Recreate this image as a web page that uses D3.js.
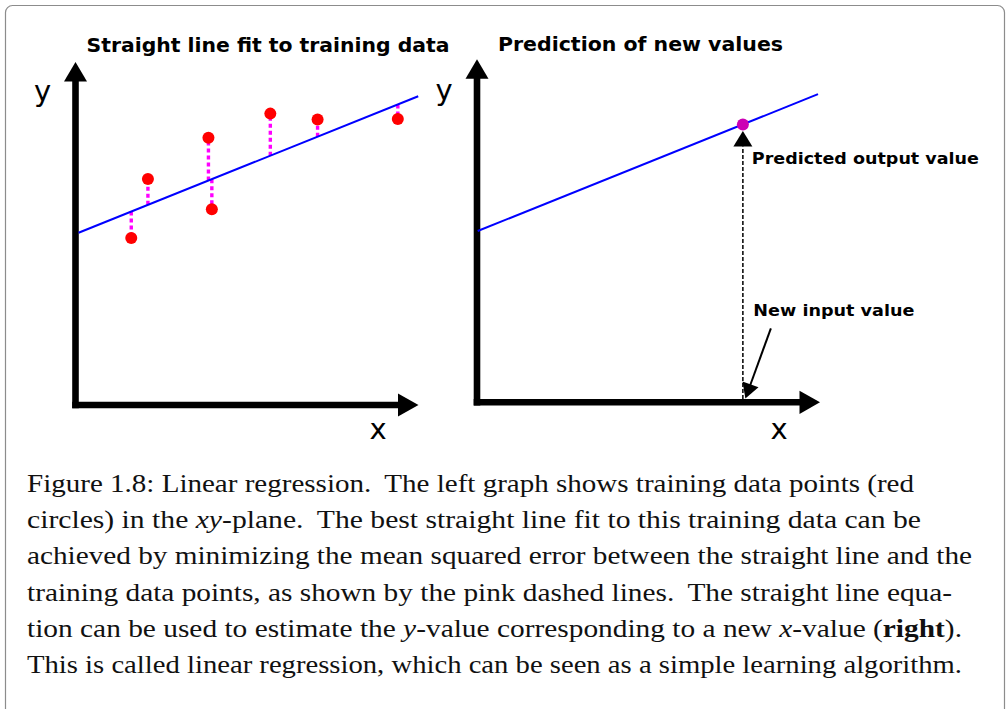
<!DOCTYPE html>
<html>
<head>
<meta charset="utf-8">
<script src="https://cdn.jsdelivr.net/npm/d3@7"></script>
<style>
  html, body { margin: 0; padding: 0; background: #fff; }
  svg { display: block; }
</style>
</head>
<body>
<svg id="chart" width="1008" height="709"></svg>
<script>
// ---------------- DATA ----------------
const panelTitles = ["Straight line fit to training data", "Prediction of new values"];
const axisLabels = ["x", "y"];
const trainX = [16.4, 21.3, 39.1, 40.1, 57.3, 71.2, 94.8];
const trainY = [49.1, 66.5, 78.6, 57.6, 85.7, 84.0, 84.1];
const fitIntercept = 50.3;
const fitSlope = 0.402;
const fitSpanLeft = [0.9, 100.8];
const fitSpanRight = [0.2, 100.3];
const newInputX = 78.2;
const annotationLabels = ["Predicted output value", "New input value"];
const captionLines = [
  [["Figure 1.8: Linear regression. \u2009The left graph shows training data points (red", "n"]],
  [["circles) in the ", "n"], ["xy", "i"], ["-plane. \u2009The best straight line fit to this training data can be", "n"]],
  [["achieved by minimizing the mean squared error between the straight line and the", "n"]],
  [["training data points, as shown by the pink dashed lines. \u2009The straight line equa-", "n"]],
  [["tion can be used to estimate the ", "n"], ["y", "i"], ["-value corresponding to a new ", "n"], ["x", "i"], ["-value (", "n"], ["right", "b"], [").", "n"]],
  [["This is called linear regression, which can be seen as a simple learning algorithm.", "n"]]
];

// ---------------- LAYOUT ----------------
const svg = d3.select("#chart");
svg.append("rect").attr("width", 1008).attr("height", 709).attr("fill", "#fff");
// frame
svg.append("rect")
  .attr("x", 5.5).attr("y", 5.5).attr("width", 999).attr("height", 740)
  .attr("rx", 7).attr("ry", 7)
  .attr("fill", "none").attr("stroke", "#8c8c8c").attr("stroke-width", 1.2);

const sansBold = "'DejaVu Sans', Verdana, sans-serif";

const panels = [
  { x: d3.scaleLinear().domain([0, 100]).range([75.5, 415.5]),
    y: d3.scaleLinear().domain([0, 100]).range([405, 65]),
    title: { x: 86.5, y: 51.5, w: 363 },
    xl: { x: 378, y: 439 }, yl: { x: 42.5, y: 101 },
    span: fitSpanLeft },
  { x: d3.scaleLinear().domain([0, 100]).range([477, 817]),
    y: d3.scaleLinear().domain([0, 100]).range([402.3, 62.3]),
    title: { x: 498, y: 50.7, w: 285 },
    xl: { x: 779, y: 439 }, yl: { x: 444, y: 100 },
    span: fitSpanRight }
];

function drawAxes(p) {
  const x0 = p.x.range()[0], x1 = p.x.range()[1];
  const y0 = p.y.range()[0], y1 = p.y.range()[1];
  const g = svg.append("g");
  const w = 6.6;
  // x axis
  const xtip = x1 + 3, xbase = xtip - 20.5;
  g.append("line").attr("x1", x0 - w / 2).attr("x2", xbase + 1).attr("y1", y0).attr("y2", y0)
    .attr("stroke", "#000").attr("stroke-width", w);
  g.append("path").attr("d", `M${xtip},${y0} L${xbase},${y0 - 11.6} L${xbase},${y0 + 11.6} Z`).attr("fill", "#000");
  // y axis
  const ytip = y1 - 3, ybase = ytip + 19.5;
  g.append("line").attr("x1", x0).attr("x2", x0).attr("y1", y0 + w / 2).attr("y2", ybase - 1)
    .attr("stroke", "#000").attr("stroke-width", w);
  g.append("path").attr("d", `M${x0},${ytip} L${x0 - 11.5},${ybase} L${x0 + 11.5},${ybase} Z`).attr("fill", "#000");
  // labels
  g.append("text").attr("x", p.xl.x).attr("y", p.xl.y).attr("text-anchor", "middle")
    .attr("font-family", "'DejaVu Sans', Verdana, sans-serif").attr("font-size", 29).text(axisLabels[0]);
  g.append("text").attr("x", p.yl.x).attr("y", p.yl.y).attr("text-anchor", "middle")
    .attr("font-family", "'DejaVu Sans', Verdana, sans-serif").attr("font-size", 29).text(axisLabels[1]);
}

panels.forEach((p, i) => {
  drawAxes(p);
  svg.append("text").attr("x", p.title.x).attr("y", p.title.y)
    .attr("font-family", sansBold).attr("font-weight", "bold").attr("font-size", 19.5)
    .attr("textLength", p.title.w).attr("lengthAdjust", "spacingAndGlyphs")
    .text(panelTitles[i]);
});

const fit = v => fitIntercept + fitSlope * v;

// ---- left panel ----
const L = panels[0];
const ptR = 6;
// residual dashed lines
trainX.forEach((xv, i) => {
  const yv = trainY[i];
  const ly = L.y(fit(xv)), py = L.y(yv);
  const dir = py < ly ? 1 : -1;
  svg.append("line")
    .attr("x1", L.x(xv)).attr("x2", L.x(xv))
    .attr("y1", ly).attr("y2", py + dir * ptR * 0.5)
    .attr("stroke", "#ff00ff").attr("stroke-width", 3.4).attr("stroke-dasharray", "4,3");
});
svg.append("line")
  .attr("x1", L.x(L.span[0])).attr("y1", L.y(fit(L.span[0])))
  .attr("x2", L.x(L.span[1])).attr("y2", L.y(fit(L.span[1])))
  .attr("stroke", "#0000ff").attr("stroke-width", 2);
svg.selectAll("circle.train").data(trainX).enter().append("circle")
  .attr("class", "train")
  .attr("cx", d => L.x(d)).attr("cy", (d, i) => L.y(trainY[i])).attr("r", ptR)
  .attr("fill", "#ff0000");

// ---- right panel ----
const R = panels[1];
svg.append("line")
  .attr("x1", R.x(R.span[0])).attr("y1", R.y(fit(R.span[0])))
  .attr("x2", R.x(R.span[1])).attr("y2", R.y(fit(R.span[1])))
  .attr("stroke", "#0000ff").attr("stroke-width", 2);
const px = R.x(newInputX), py = R.y(fit(newInputX));
const arrowTip = py + 6.5, arrowBase = arrowTip + 15.5;
svg.append("line")
  .attr("x1", px).attr("x2", px).attr("y1", R.y(0) - 3.3).attr("y2", arrowBase)
  .attr("stroke", "#000").attr("stroke-width", 1.5).attr("stroke-dasharray", "4,2");
svg.append("path").attr("d", `M${px},${arrowTip} L${px - 9.5},${arrowBase} L${px + 9.5},${arrowBase} Z`).attr("fill", "#000");
svg.append("circle").attr("cx", px).attr("cy", py).attr("r", 6).attr("fill", "#cc00b4");

svg.append("text").attr("x", px + 9).attr("y", 164)
  .attr("font-family", sansBold).attr("font-weight", "bold").attr("font-size", 16)
  .attr("textLength", 227).attr("lengthAdjust", "spacingAndGlyphs")
  .text(annotationLabels[0]);
svg.append("text").attr("x", px + 10.5).attr("y", 315.7)
  .attr("font-family", sansBold).attr("font-weight", "bold").attr("font-size", 16)
  .attr("textLength", 161).attr("lengthAdjust", "spacingAndGlyphs")
  .text(annotationLabels[1]);
// pointer arrow from label to axis
{
  const sx = px + 28, sy = 328.3;
  const tx = px + 2.5, ty = R.y(0) - 3.8;
  const dx = tx - sx, dy = ty - sy, len = Math.hypot(dx, dy);
  const ux = dx / len, uy = dy / len;
  const hl = 15, hw = 8.5;
  const bx = tx - ux * hl, by = ty - uy * hl;
  svg.append("line").attr("x1", sx).attr("y1", sy).attr("x2", bx + ux * 2).attr("y2", by + uy * 2)
    .attr("stroke", "#000").attr("stroke-width", 2);
  svg.append("path")
    .attr("d", `M${tx},${ty} L${bx - uy * hw},${by + ux * hw} L${bx + uy * hw},${by - ux * hw} Z`)
    .attr("fill", "#000");
}

// ---- caption ----
const capX = 27;
const capBase = [492, 528, 564.3, 600.5, 636.7, 672.8];
const capRight = [914, 921, 972, 952, 962, 962];
captionLines.forEach((segs, i) => {
  const t = svg.append("text").attr("x", capX).attr("y", capBase[i])
    .attr("font-family", "'Liberation Serif', 'Times New Roman', serif").attr("font-size", 25)
    .attr("fill", "#111")
    .attr("textLength", capRight[i] - capX).attr("lengthAdjust", "spacingAndGlyphs");
  segs.forEach(([txt, s]) => {
    const ts = t.append("tspan").text(txt);
    if (s === "i") ts.attr("font-style", "italic");
    if (s === "b") ts.attr("font-weight", "bold");
  });
});
</script>
</body>
</html>
